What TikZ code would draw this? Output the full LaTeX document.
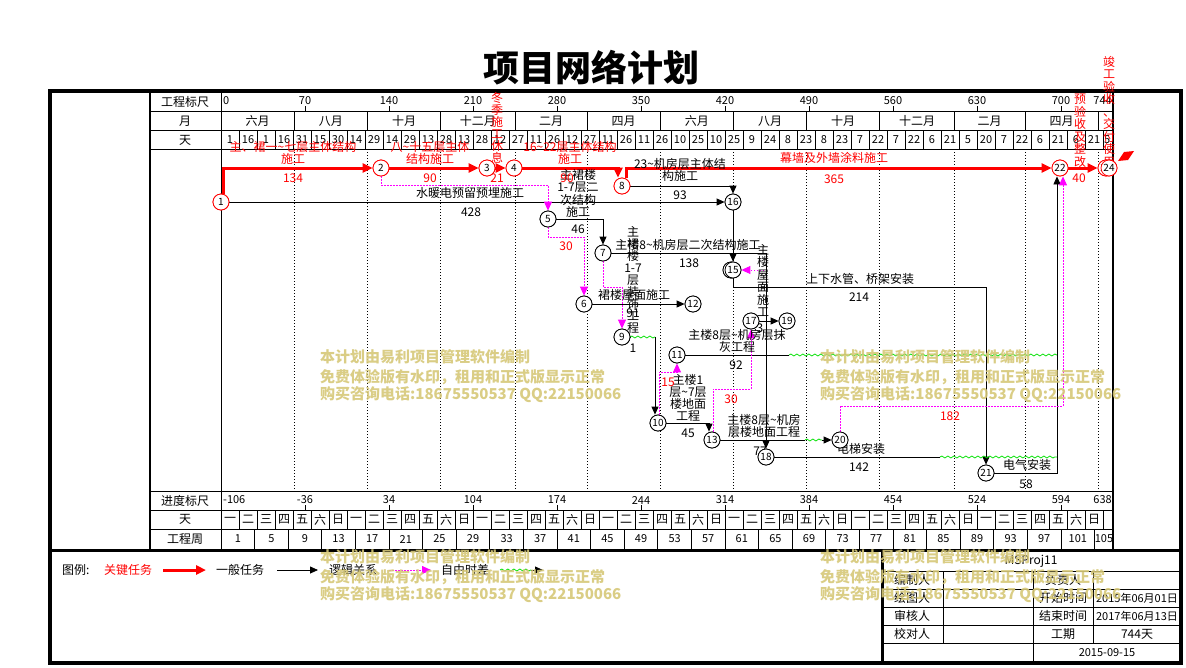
\documentclass[tikz,border=0pt]{standalone}
\usepackage{fontspec}
\setmainfont{Noto Sans CJK SC}
\usetikzlibrary{arrows.meta,decorations.pathmorphing,calc}
\definecolor{critred}{RGB}{255,0,0}
\definecolor{ffgreen}{RGB}{0,225,0}
\definecolor{logmag}{RGB}{255,0,255}
\definecolor{wmark}{RGB}{214,200,120}
\tikzset{
 nd/.style={circle,draw=black,line width=0.8pt,fill=white,inner sep=0pt,minimum size=16pt,font=\fontsize{10}{10}\selectfont},
 rnd/.style={nd,draw=critred},
 crit/.style={draw=critred,line width=3pt,-{Triangle[length=10pt,width=9pt]}},
 gen/.style={draw=black,line width=0.8pt,-{Triangle[length=8pt,width=7pt]}},
 genl/.style={draw=black,line width=0.8pt},
 logic/.style={draw=logmag,line width=0.9pt,dash pattern=on 1.5pt off 1.5pt,-{Triangle[length=9pt,width=8pt,fill=logmag]}},
 ff/.style={draw=ffgreen,line width=0.8pt,decorate,decoration={snake,amplitude=1pt,segment length=6pt}},
 lbl/.style={font=\fontsize{12}{12}\selectfont,inner sep=0pt,align=center},
 rlbl/.style={lbl,text=critred},
 vlbl/.style={font=\fontsize{12}{12}\selectfont,inner sep=0pt,align=center,anchor=north},
 sl/.style={font=\fontsize{11}{11}\selectfont,inner sep=0pt},
 thinln/.style={draw=black,line width=0.8pt},
 mdot/.style={draw=black,line width=0.7pt,dash pattern=on 1pt off 2pt},
 wm/.style={font=\fontsize{15}{15}\selectfont\bfseries,text=wmark,anchor=west,inner sep=0pt,opacity=0.9},
}
\begin{document}
\begin{tikzpicture}[x=1pt,y=-1pt]
\useasboundingbox (0,0) rectangle (1186,667);
\fill[white] (0,0) rectangle (1186,667);

% title
\node[font=\fontsize{36}{36}\selectfont\bfseries,inner sep=0pt] (title) at (591,68) {项目网络计划};

% ---------- chart frame and rows ----------
\foreach \yy in {111,130,149,491,510,529} \draw[thinln] (150,\yy) -- (1113,\yy);
\draw[line width=1.2pt] (150,92) -- (150,550);
\draw[thinln] (221,92) -- (221,550);
\draw[line width=1.5pt] (1113,92) -- (1113,550);

% row labels
\node[lbl] (hl1) at (185,102) {工程标尺};
\node[lbl] (hl2) at (185,121) {月};
\node[lbl] (hl3) at (185,140) {天};
\node[lbl] (hl4) at (185,500.5) {进度标尺};
\node[lbl] (hl5) at (185,519.5) {天};
\node[lbl] (hl6) at (185,539) {工程周};

% top scale
\node[sl,anchor=west] (s0) at (223,101) {0};
\foreach \k/\v in {1/70,2/140,3/210,4/280,5/350,6/420,7/490,8/560,9/630,10/700} {
  \draw[thinln] ({221+84*\k},106) -- ({221+84*\k},111);
  \node[sl] at ({221+84*\k},101) {\v};
}
\node[sl,anchor=east] (s744) at (1112,101) {744};

% months
\foreach \a/\b/\m in {0/61/六月,61/122/八月,122/183/十月,183/245/十二月,245/305/二月,305/366/四月,366/427/六月,427/488/八月,488/549/十月,549/611/十二月,611/670/二月,670/731/四月} {
  \node[lbl] at ({221+0.6*(\a+\b)},121) {\m};
  \draw[thinln] ({221+1.2*\b},111) -- ({221+1.2*\b},130);
  \draw[mdot] ({221+1.2*\b},149) -- ({221+1.2*\b},491);
}

% top days
\foreach \d [count=\i from 0] in {1,16,1,16,31,15,30,14,29,14,29,13,28,13,28,12,27,11,26,12,27,11,26,11,26,10,25,10,25,9,24,8,23,8,23,7,22,7,22,6,21,5,20,7,22,6,21,6,21} {
  \node[sl] at ({221+18*\i+9},140) {\d};
  \draw[thinln] ({221+18*(\i+1)},130) -- ({221+18*(\i+1)},149);
}
\node[sl,anchor=west] (dlast) at (1104,140) {5};

% bottom scale
\node[sl,anchor=west] (b0) at (223,500) {-106};
\foreach \k/\v in {1/-36,2/34,3/104,4/174,5/244,6/314,7/384,8/454,9/524,10/594} {
  \draw[thinln] ({221+84*\k},505) -- ({221+84*\k},510);
  \node[sl] at ({221+84*\k},500) {\v};
}
\node[sl,anchor=east] (b638) at (1112,500) {638};

% bottom weekdays
\foreach \wk in {0,...,6} {
  \foreach \dn [count=\j from 0] in {一,二,三,四,五,六,日} {
    \node[lbl] at ({221+18*(7*\wk+\j)+9},519.5) {\dn};
  }
}
\foreach \i in {1,...,49} \draw[thinln] ({221+18*\i},510) -- ({221+18*\i},529);

% work weeks
\foreach \k in {0,...,25} {
  \pgfmathtruncatemacro\wn{4*\k+1}
  \node[sl] at ({221+33.6*\k+16.8},539) {\wn};
  \draw[thinln] ({221+33.6*(\k+1)},529) -- ({221+33.6*(\k+1)},550);
}
\node[sl] (w105) at (1104,539) {105};

% outer frame
\draw[line width=4.5pt] (50,91) rectangle (1181,663);
\draw[line width=3pt] (50,550) -- (1181,550);

% ---------- title block ----------
\draw[line width=3pt] (882,551) -- (882,663);
\foreach \yy in {571,589,607,625,643} \draw[thinln] (882,\yy) -- (1181,\yy);
\draw[thinln] (943,571) -- (943,643);
\draw[thinln] (1033,571) -- (1033,663);
\draw[thinln] (1093,571) -- (1093,643);
\node[lbl] (tb0) at (1031,561) {MSProj11};
\node[lbl] (tb1) at (912,580) {编制人};
\node[lbl] (tb2) at (1063,580) {负责人};
\node[lbl] (tb3) at (912,598) {绘图人};
\node[lbl] (tb4) at (1063,598) {开始时间};
\node[sl] (tb5) at (1137,598) {2015年06月01日};
\node[lbl] (tb6) at (912,616) {审核人};
\node[lbl] (tb7) at (1063,616) {结束时间};
\node[sl] (tb8) at (1137,616) {2017年06月13日};
\node[lbl] (tb9) at (912,634) {校对人};
\node[lbl] (tb10) at (1063,634) {工期};
\node[lbl] (tb11) at (1137,634) {744天};
\node[sl] (tb12) at (1107,653) {2015-09-15};

% ---------- legend ----------
\node[lbl,anchor=west] (lg0) at (62,570) {图例:};
\node[rlbl,anchor=west] (lg1) at (104,570) {关键任务};
\coordinate (la1) at (163,570); \coordinate (la2) at (206,570);
\draw[crit] (la1) -- (la2);
\node[lbl,anchor=west] (lg2) at (216,570) {一般任务};
\coordinate (lb1) at (277,570); \coordinate (lb2) at (318,570);
\draw[gen] (lb1) -- (lb2);
\node[lbl,anchor=west] (lg3) at (329,570) {逻辑关系};
\coordinate (lc1) at (389,570); \coordinate (lc2) at (431,570);
\draw[logic] (lc1) -- (lc2);
\node[lbl,anchor=west] (lg4) at (441,570) {自由时差};
\coordinate (ld1) at (500,570); \coordinate (ld2) at (531,570); \coordinate (ld3) at (543,570);
\draw[ff] (ld1) -- (ld2);
\draw[gen] (ld2) -- (ld3);

% ---------- nodes (placed first, drawn again on top later) ----------
\coordinate (p1) at (221,202);
\coordinate (p2) at (381,168);
\coordinate (p3) at (487,168);
\coordinate (p4) at (514,168);
\coordinate (p5) at (548,219);
\coordinate (p6) at (584,304);
\coordinate (p7) at (603,253);
\coordinate (p8) at (622,186);
\coordinate (p9) at (622,337);
\coordinate (p10) at (658,423);
\coordinate (p11) at (677,355);
\coordinate (p12) at (693,304);
\coordinate (p13) at (712,440);
\coordinate (p14) at (731,270);
\coordinate (p15) at (733,270);
\coordinate (p16) at (733,202);
\coordinate (p17) at (751,321);
\coordinate (p18) at (766,457);
\coordinate (p19) at (787,321);
\coordinate (p20) at (840,440);
\coordinate (p21) at (986,473);
\coordinate (p22) at (1060,168);
\coordinate (p23) at (1106,168);
\coordinate (p24) at (1109,168);

\foreach \n in {1,2,3,4,8,22,23,24} \node[rnd] (n\n) at (p\n) {};
\foreach \n in {5,6,7,9,10,11,12,13,14,15,16,17,18,19,20,21} \node[nd] (n\n) at (p\n) {};

% ---------- connectors ----------
% critical
\draw[crit] ([xshift=2pt]n1.north) |- (n2.west);
\draw[crit] (n2) -- (n3);
\draw[crit] (n3) -- (n4);
\draw[crit] (n4.east) -| ([xshift=-4pt]n8.north);
\draw[crit] ([xshift=4pt]n8.north) |- (n22.west);
\draw[crit] (n22) -- (n23);

% general
\draw[gen] (n1.east) -- (n16.west);
\draw[gen] (n8.east) -| (n16.north);
\draw[gen] (n5.east) -| (n7.north);
\draw[gen] (n7.east) -| (n18.north);
\draw[gen] (n16.south) -- (n15.north);
\draw[gen] (n15.south) -- ++(0,9) -| (n21.north);
\draw[gen] (n6) -- (n12);
\coordinate (c9a) at (630,337); \coordinate (c9b) at (655,337);
\draw[genl] (n9.east) -- (c9a);
\draw[ff] (c9a) -- (c9b);
\draw[gen] (c9b) -- (c9b |- n10.north);
\draw[gen] (n10.east) -| ([xshift=-3pt]n13.north);
\coordinate (c13a) at (805,440); \coordinate (c13b) at (822,440);
\draw[genl] (n13.east) -- (c13a);
\draw[ff] (c13a) -- (c13b);
\draw[gen] (c13b) -- (n20.west);
\coordinate (c11a) at (789,355); \coordinate (c11b) at (1057,355);
\draw[genl] (n11.east) -- (c11a);
\draw[ff] (c11a) -- (c11b);
\coordinate (c18a) at (940,457); \coordinate (c18b) at (1057,457);
\draw[genl] (n18.east) -- (c18a);
\draw[ff] (c18a) -- (c18b);
\draw[gen] (n21.east) -| ([xshift=-3pt]n22.south);
\draw[gen] (n17) -- (n19);

% logic (dotted)
\coordinate (m2) at (548,185);
\draw[logic] (n2.south) |- (m2) -- (n5.north);
\coordinate (m5) at (584,237);
\draw[logic] (n5.south) |- (m5) -- (n6.north);
\coordinate (m7) at (622,287);
\draw[logic] (n7.south) |- (m7) -- (n9.north);
\coordinate (m10) at (677,372);
\draw[logic] ([xshift=1pt]n10.north) |- (m10) -- (n11.south);
\coordinate (m13) at (751,389);
\draw[logic] ([xshift=1pt]n13.north) |- (m13) -- (n17.south);
\coordinate (m20) at (1063,406);
\draw[logic] (n20.north) |- (m20) -- ([xshift=3pt]n22.south);
\coordinate (m15) at (764,270);
\draw[logic] (m15) -- (n15.east);

% ---------- labels ----------
\node[lbl] (t1) at (470,193) {水暖电预留预埋施工};
\node[lbl] (d1) at (471,212) {428};
\node[lbl,font=\fontsize{12}{12.4}\selectfont] (t2) at (578,193.5) {主裙楼\\1-7层二\\次结构\\施工};
\node[lbl] (d2) at (578,229) {46};
\node[lbl] (t3) at (680,170) {23\textasciitilde 机房层主体结\\构施工};
\node[lbl] (d3) at (680,195) {93};
\node[lbl] (t4) at (688,245) {主楼8\textasciitilde 机房层二次结构施工};
\node[lbl] (d4) at (689,263) {138};
\node[vlbl] (t5) at (633,226) {主\\裙\\楼\\1-7\\层\\装\\饰\\工\\程};
\node[lbl] (t6) at (634,295) {裙楼屋面施工};
\node[lbl] (d6) at (633,313) {91};
\node[lbl] (d5) at (633,348) {1};
\node[lbl] (t7) at (860,279) {上下水管、桥架安装};
\node[lbl] (d7) at (859,297) {214};
\node[vlbl,font=\fontsize{12}{12.5}\selectfont] (t8) at (763,244) {主\\楼\\屋\\面\\施\\工};
\node[lbl] (d8) at (760,328) {3};
\node[lbl] (t9) at (737,340.5) {主楼8层\textasciitilde 机房层抹\\灰工程};
\node[lbl] (d9) at (736,365) {92};
\node[lbl] (t10) at (688,398) {主楼1\\层\textasciitilde 7层\\楼地面\\工程};
\node[lbl] (d10) at (688,433) {45};
\node[lbl] (t11) at (764,426) {主楼8层\textasciitilde 机房\\层楼地面工程};
\node[lbl] (d11) at (760,451) {77};
\node[lbl] (t12) at (861,449) {电梯安装};
\node[lbl] (d12) at (859,467) {142};
\node[lbl] (t13) at (1027,465) {电气安装};
\node[lbl] (d13) at (1026,484) {58};

% red labels
\node[rlbl] (r1) at (293,153) {主、裙一\textasciitilde 七层主体结构\\施工};
\node[rlbl] (rd1) at (293,178) {134};
\node[rlbl] (r2) at (430,153) {八\textasciitilde 十五层主体\\结构施工};
\node[rlbl] (rd2) at (430,178) {90};
\node[vlbl,text=critred] (r3) at (497,92) {冬\\季\\施\\工\\休\\息};
\node[rlbl] (rd3) at (497,178) {21};
\node[rlbl] (r4) at (570,153) {16\textasciitilde 22层主体结构\\施工};
\node[rlbl] (rd4) at (567,178) {90};
\node[rlbl] (r5) at (834,158) {幕墙及外墙涂料施工};
\node[rlbl] (rd5) at (834,179) {365};
\node[vlbl,text=critred,font=\fontsize{12}{12.5}\selectfont] (r6) at (1080,94) {预\\验\\收\\及\\整\\改};
\node[rlbl] (rd6) at (1079,178) {40};
\node[vlbl,text=critred,font=\fontsize{12}{12.5}\selectfont] (r7) at (1109,56) {竣\\工\\验\\收\\、\\交\\付\\使\\用};
\node[rlbl] (rf1) at (566,246) {30};
\node[rlbl] (rf2) at (668,382) {15};
\node[rlbl] (rf3) at (731,399) {30};
\node[rlbl] (rf4) at (950,416) {182};
\fill[critred] (1118,161) -- (1124,152) -- (1134,151) -- (1128,160) -- cycle;

% ---------- nodes on top ----------
\foreach \n in {1,2,3,4,8,22,23,24} \node[rnd] at (p\n) {\n};
\foreach \n in {5,6,7,9,10,11,12,13,14,15,16,17,18,19,20,21} \node[nd] at (p\n) {\n};

% ---------- watermarks ----------
\foreach \wx/\wy in {320/357,820/357,320/557,820/557} {
  \node[wm] at (\wx,\wy) {本计划由易利项目管理软件编制};
  \node[wm] at (\wx,\wy+20) {免费体验版有水印，租用和正式版显示正常};
  \node[wm] at (\wx,\wy+38) {购买咨询电话:18675550537 QQ:22150066};
}
\end{tikzpicture}
\end{document}
